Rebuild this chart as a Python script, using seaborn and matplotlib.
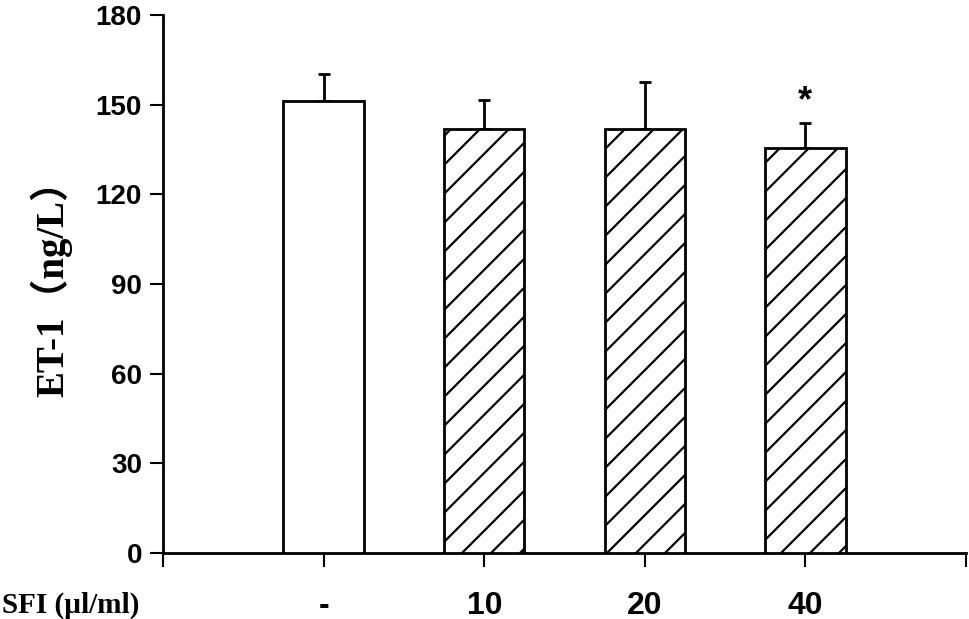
import matplotlib
matplotlib.use("Agg")
import matplotlib.pyplot as plt
import seaborn as sns
import numpy as np
import pandas as pd

# ---- data ----
categories = ["-", "10", "20", "40"]
means = [151.2, 141.9, 141.9, 135.4]
errors = [9.1, 9.6, 15.7, 8.4]
significance = ["", "", "", "*"]
hatches = ["", "/", "/", "/"]
y_ticks = [0, 30, 60, 90, 120, 150, 180]
x_label = "SFI (µl/ml)"
y_label = "ET-1（ng/L）"

DPI = 87
K = 100 / DPI  # sizes below are given in points at 100 dpi


def s(v):
    return v * K


sns.set_theme(style="white")
plt.rcParams["hatch.linewidth"] = s(1.6)
plt.rcParams["hatch.color"] = "black"
for key in ["text.color", "axes.labelcolor", "xtick.color", "ytick.color",
            "axes.edgecolor"]:
    plt.rcParams[key] = "black"

df = pd.DataFrame({"cat": categories, "val": means})

fig = plt.figure(figsize=(969 / DPI, 619 / DPI), dpi=DPI)
ax = fig.add_axes([163 / 969, 1 - 553 / 619, 803 / 969, 538 / 619])

sns.barplot(data=df, x="cat", y="val", order=categories, color="white",
            edgecolor="black", linewidth=s(2), width=0.5, errorbar=None,
            saturation=1, ax=ax, zorder=3)

for patch, h in zip(ax.patches, hatches):
    patch.set_facecolor("white")
    patch.set_hatch(h)

pos = np.arange(len(categories))
ax.errorbar(pos, means, yerr=[np.zeros(len(errors)), errors], fmt="none",
            ecolor="black", elinewidth=s(2), capsize=s(4.3), capthick=s(2),
            zorder=2)

for x, m, e, sig in zip(pos, means, errors, significance):
    if sig:
        ax.annotate(sig, xy=(x, m + e), xytext=(0, s(9)),
                    textcoords="offset points", ha="center", va="baseline",
                    fontsize=s(26), fontweight="bold", color="black",
                    family=["Liberation Sans", "DejaVu Sans"])

ax.set_xlim(-1, 4)
ax.set_ylim(0, 180)
ax.set_yticks(y_ticks)
ax.set_yticklabels([str(t) for t in y_ticks], fontsize=s(20), fontweight="bold",
                   family=["Liberation Sans", "DejaVu Sans"])
ax.set_xticks(np.arange(-1, 5))
ax.set_xticklabels([""] + categories + [""], fontsize=s(23), fontweight="bold",
                   family=["Liberation Sans", "DejaVu Sans"])

for sp in ["top", "right"]:
    ax.spines[sp].set_visible(False)
for sp in ["left", "bottom"]:
    ax.spines[sp].set_visible(True)
    ax.spines[sp].set_linewidth(s(2))
    ax.spines[sp].set_color("black")

ax.tick_params(axis="y", direction="out", length=s(9.4), width=s(1.5),
               color="black", pad=s(5.8), left=True)
ax.tick_params(axis="x", direction="out", length=s(10), width=s(1.5),
               color="black", pad=s(17), bottom=True)

ax.set_xlabel("")
ax.set_ylabel(y_label, fontsize=s(28), fontweight="bold", color="black",
              family=["Liberation Serif", "Noto Sans CJK SC", "DejaVu Sans"])
ax.yaxis.set_label_coords(-0.113, 0.51)

fig.text(2 / 969, 1 - 605 / 619, x_label, ha="left", va="center",
         fontsize=s(21), fontweight="bold", color="black",
         family=["Liberation Serif", "DejaVu Serif"])

ax.set_facecolor("white")
fig.patch.set_facecolor("white")
fig.savefig("out.png", dpi=DPI, facecolor="white")
